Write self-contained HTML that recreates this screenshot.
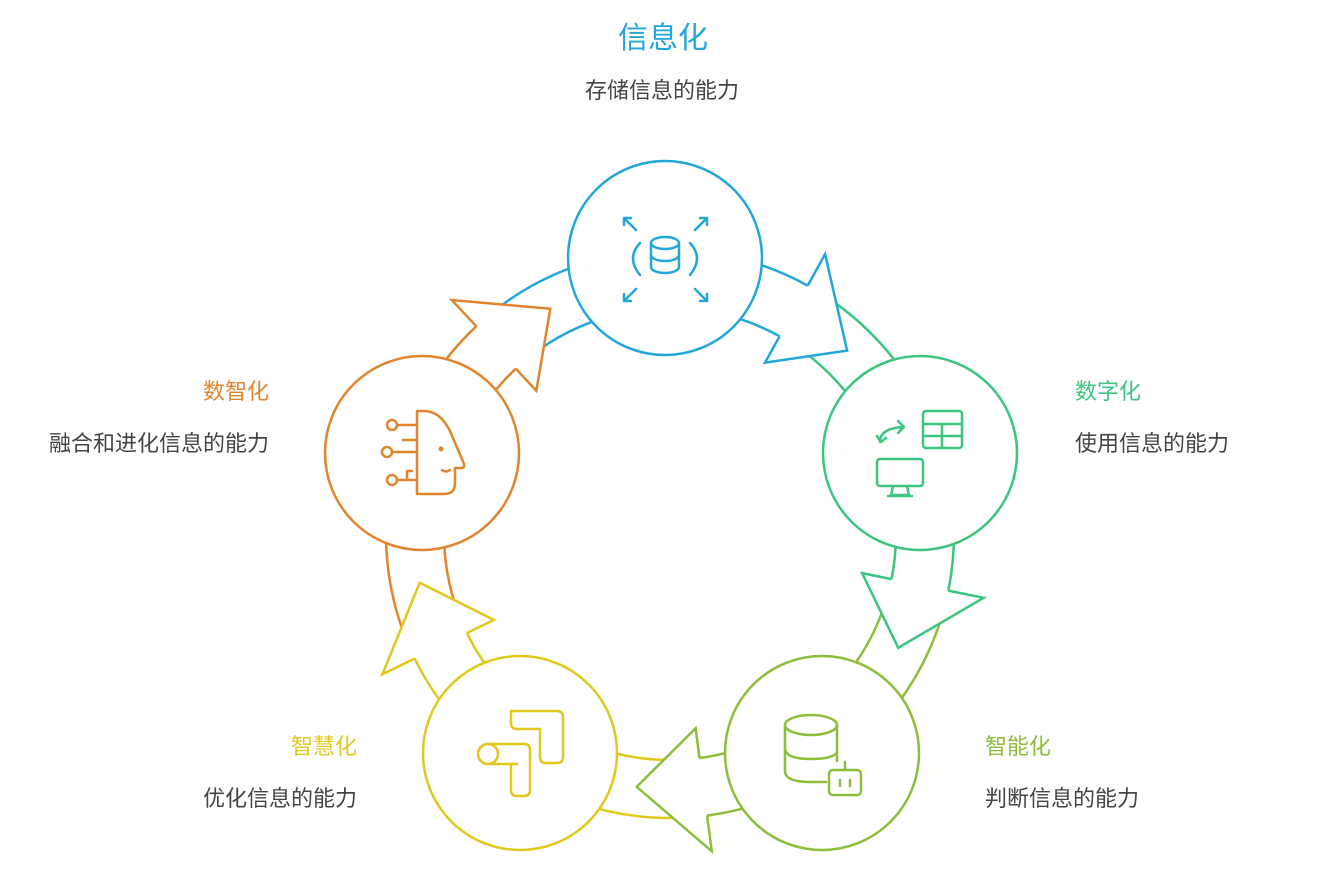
<!DOCTYPE html>
<html><head><meta charset="utf-8"><style>
body{margin:0;background:#fff;width:1342px;height:871px;overflow:hidden;font-family:"Liberation Sans","Noto Sans CJK SC",sans-serif}
svg{position:absolute;left:0;top:0}
</style></head><body>
<svg id="s" width="1342" height="871" viewBox="0 0 1342 871" xmlns="http://www.w3.org/2000/svg">
<g id="bands" fill="none" stroke-width="2.5"></g>
<g id="heads" stroke-width="2.5" stroke-linejoin="miter"></g>
<g fill="#fff" stroke-width="2.5">
<circle cx="665" cy="258" r="97" stroke="#22a7d8"/>
<circle cx="920" cy="453" r="97" stroke="#3cc480"/>
<circle cx="822" cy="753" r="97" stroke="#8dbd3a"/>
<circle cx="520" cy="753" r="97" stroke="#e0c81c"/>
<circle cx="422" cy="453" r="97" stroke="#e0852e"/>
</g>
<g fill="none" stroke="#22a7d8" stroke-width="2.5" stroke-linecap="round">
<ellipse cx="665" cy="243" rx="14" ry="6"/>
<path d="M651 243v24a14 6 0 0 0 28 0v-24M651 255a14 6 0 0 0 28 0"/>
<path d="M640 243q-14 15 0 32M690 243q14 15 0 32"/>
<path d="M624 218l12 12M624 218v7M624 218h7M707 218l-12 12M707 218v7M707 218h-7M624 301l12-12M624 301v-7M624 301h7M707 301l-12-12M707 301v-7M707 301h-7"/>
</g>
<g fill="none" stroke="#3cc480" stroke-width="2.5" stroke-linecap="round" stroke-linejoin="round">
<rect x="923" y="411" width="39" height="37" rx="3"/><path d="M923 424h39M942 424v24M923 436h39"/>
<rect x="877" y="459" width="46" height="27" rx="3"/><path d="M893 486l-2 9h18l-2-9M888 496h24"/>
<path d="M880 442q0-14 24-15M898 421l6 6-6 6M877 436l4 6 5-4"/>
</g>
<g fill="none" stroke="#8dbd3a" stroke-width="2.5" stroke-linecap="round" stroke-linejoin="round">
<ellipse cx="811" cy="725" rx="26" ry="10"/>
<path d="M785 725v46q0 11 26 11h15M785 748q0 11 26 11 20 0 26-6M837 725v36"/>
<rect x="829" y="770" width="32" height="25" rx="4"/><path d="M845 770v-8M840 780v6M850 780v6"/>
</g>
<g fill="none" stroke="#e0c81c" stroke-width="2.5" stroke-linecap="round" stroke-linejoin="round">
<path d="M511 720v-9h46q6 0 6 6v40q0 6-6 6h-11q-6 0-6-6v-28h-23q-6 0-6-6z"/>
<path d="M488 744h36q6 0 6 6v40q0 6-6 6h-7q-6 0-6-6v-26M488 744a10 10 0 0 0 0 20h29"/>
<circle cx="488" cy="754" r="10"/>
</g>
<g fill="none" stroke="#e0852e" stroke-width="2.5" stroke-linecap="round" stroke-linejoin="round">
<path d="M417 411h7q16 0 26 20l14 33q1 4-3 4h-6v15q0 11-11 11h-27z"/>
<path d="M442 470q4 3 8 0"/><circle cx="441" cy="449" r="1.2" fill="#e0852e"/>
<circle cx="392" cy="425" r="5"/><path d="M397 425h20M403 440h14"/>
<circle cx="387" cy="452" r="5"/><path d="M392 452h25"/>
<circle cx="392" cy="480" r="5"/><path d="M397 480h10v-9h5M407 480h10"/>
</g>
<g font-family="'Liberation Sans','Noto Sans CJK SC',sans-serif">
<text x="663" y="48" font-size="30" fill="#22a7d8" text-anchor="middle">信息化</text>
<text x="662" y="98" font-size="22" fill="#444" text-anchor="middle">存储信息的能力</text>
<text x="1075" y="399" font-size="22" fill="#3cc480">数字化</text>
<text x="1075" y="451" font-size="22" fill="#444">使用信息的能力</text>
<text x="985" y="754" font-size="22" fill="#8dbd3a">智能化</text>
<text x="985" y="806" font-size="22" fill="#444">判断信息的能力</text>
<text x="357" y="754" font-size="22" fill="#e0c81c" text-anchor="end">智慧化</text>
<text x="357" y="806" font-size="22" fill="#444" text-anchor="end">优化信息的能力</text>
<text x="269" y="399" font-size="22" fill="#e0852e" text-anchor="end">数智化</text>
<text x="269" y="451" font-size="22" fill="#444" text-anchor="end">融合和进化信息的能力</text>
</g>
</svg>
<script>
(function(){
var cx=670,cy=534,ri=226,ro=284;
var cols=["#22a7d8","#3cc480","#8dbd3a","#e0c81c","#e0852e"];
var ang=[-90,-18,55,124,198];
var bands=document.getElementById('bands'),heads=document.getElementById('heads');
var NS="http://www.w3.org/2000/svg";
function P(r,a){a=a*Math.PI/180;return [(cx+r*Math.cos(a)).toFixed(1),(cy+r*Math.sin(a)).toFixed(1)];}
function arc(r,a1,a2,c){var p=P(r,a1),q=P(r,a2);var e=document.createElementNS(NS,'path');
e.setAttribute('d','M'+p+'A'+r+' '+r+' 0 0 1 '+q);e.setAttribute('stroke',c);bands.appendChild(e);}
for(var i=0;i<5;i++){
 var a1=ang[i],a2=ang[(i+1)%5];if(a2<a1)a2+=360;
 var mid=(a1+a2)/2,base=mid-7,tip=mid+8;
 arc(ri,a1,base,cols[i]);arc(ro,a1,base,cols[i]);
 arc(ri,base,a2,cols[(i+1)%5]);arc(ro,base,a2,cols[(i+1)%5]);
 var pts=[P(ri,base),P(196,base),P(255,tip),P(320,base),P(ro,base)];
 var s=pts.map(function(p){return p.join(',')}).join(' ');
 var f=document.createElementNS(NS,'polygon');
 f.setAttribute('points',s);f.setAttribute('fill','#fff');f.setAttribute('stroke','none');heads.appendChild(f);
 var e=document.createElementNS(NS,'polyline');
 e.setAttribute('points',s);e.setAttribute('fill','none');
 e.setAttribute('stroke',cols[i]);heads.appendChild(e);
}
})();
</script>
</body></html>
